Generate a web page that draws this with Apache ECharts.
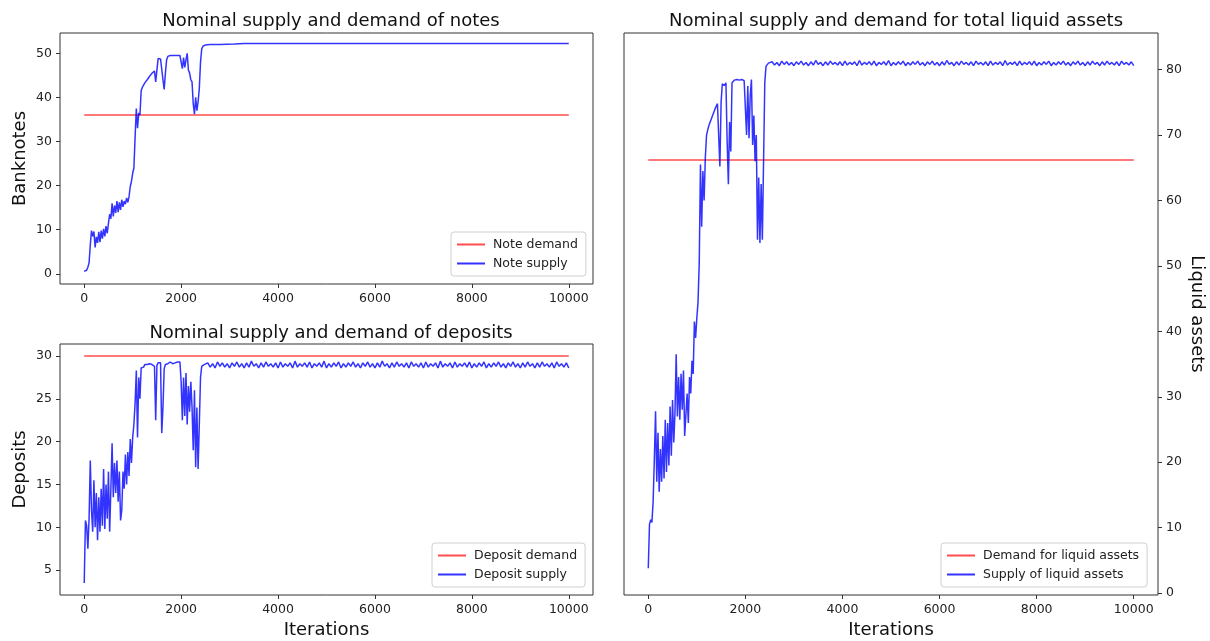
<!DOCTYPE html>
<html>
<head>
<meta charset="utf-8">
<script src="https://cdn.jsdelivr.net/npm/echarts@6/dist/echarts.min.js"></script>
<style>
  html, body { margin: 0; padding: 0; background: #fff; }
  #main { width: 1210px; height: 641px; }
</style>
</head>
<body>
<div id="main"></div>
<script>
// iterations sampled every 25 up to 2500, then every 50 to 10000
const earlyIters = [];
for (let i = 0; i <= 2500; i += 25) earlyIters.push(i);
const lateIters = [];
for (let i = 2550; i <= 10000; i += 50) lateIters.push(i);
const tickIters = [0, 2000, 4000, 6000, 8000, 10000];

// demand levels (flat lines over all iterations)
const demandIters = [0, 10000];
const noteDemand = 36;
const depositDemand = 30;
const liquidDemand = 66.2;

// notes supply
const notesEarly = [
  0.6, 0.5, 0.8, 1.5, 2.5, 6.5, 9.8, 8.5, 9.6, 6.0, 8.4, 7.0, 9.5, 7.2, 9.8, 8.0, 10.2, 8.5, 10.8, 9.2,
  11.5, 13.5, 12.5, 16.0, 13.0, 15.5, 13.8, 16.5, 14.0, 16.2, 14.5, 16.8, 15.2, 16.5, 15.8, 17.2, 16.2, 17.5, 19.8, 21.0,
  22.8, 24.0, 31.0, 37.5, 33.0, 36.5, 36.0, 41.5, 42.3, 42.8, 43.3, 43.7, 44.0, 44.4, 44.8, 45.1, 45.5, 45.8, 46.0, 43.5,
  46.2, 48.8, 49.0, 48.7, 49.0, 44.0, 41.8, 45.5, 48.5, 49.3, 49.5, 49.5, 49.5, 49.5, 49.5, 49.5, 49.5, 49.5, 49.5, 49.5,
  49.4, 46.5, 49.0, 46.8, 48.5, 50.0, 46.2, 45.5, 44.0, 43.5, 38.5, 36.2, 40.0, 37.0, 39.0, 42.0, 48.0, 51.0, 51.6, 51.8,
  51.9
];
const notesLateIters = [2600, 2800, 3100, 3300, 10000];
const notesLate = [52.0, 52.0, 52.1, 52.2, 52.2];

// deposit supply
const depositsEarly = [
  3.5, 10.8, 10.2, 7.5, 11.0, 17.8, 12.0, 9.5, 15.5, 10.0, 14.0, 8.5, 13.5, 9.5, 14.5, 10.2, 16.8, 9.8, 15.0, 11.0,
  16.5, 9.5, 14.5, 19.8, 13.5, 17.5, 14.0, 17.8, 13.0, 16.5, 10.8, 12.0, 16.5, 14.5, 18.5, 15.0, 18.8, 16.0, 20.3, 17.5,
  20.5, 22.0, 24.5, 28.3, 20.5, 27.5, 25.0, 28.6, 28.8, 28.7, 29.0, 28.8, 29.0, 28.9, 29.1, 28.9, 29.0, 29.1, 28.8, 22.5,
  28.9, 29.2, 29.0, 29.2, 21.0, 24.0, 28.5, 29.0, 29.2, 29.1, 29.2, 29.3, 29.2, 29.1, 29.3, 29.2, 29.1, 29.3, 29.2, 29.3,
  27.0, 22.5, 27.5, 23.0, 28.0, 22.0, 26.5, 23.5, 27.0, 24.0, 19.0, 26.0, 17.0, 24.0, 16.8, 22.0, 27.5, 28.8, 28.9, 29.0,
  28.8
];
const depositsLate = [
  29.2, 28.7, 29.1, 28.6, 29.3, 28.8, 29.2, 28.7, 29.1, 28.6, 29.2, 28.8, 29.3, 28.7, 29.1, 28.6, 29.2, 28.7, 29.4, 28.8,
  29.1, 28.6, 29.2, 28.7, 29.3, 28.8, 29.1, 28.7, 29.2, 28.6, 29.3, 28.7, 29.1, 28.8, 29.2, 28.6, 29.4, 28.7, 29.1, 28.8,
  29.2, 28.7, 29.3, 28.6, 29.1, 28.8, 29.2, 28.7, 29.4, 28.6, 29.1, 28.7, 29.2, 28.8, 29.3, 28.6, 29.1, 28.7, 29.2, 28.8,
  29.3, 28.7, 29.1, 28.6, 29.2, 28.8, 29.3, 28.7, 29.1, 28.6, 29.2, 28.7, 29.4, 28.8, 29.1, 28.6, 29.2, 28.7, 29.3, 28.8,
  29.1, 28.7, 29.2, 28.6, 29.3, 28.8, 29.1, 28.7, 29.2, 28.6, 29.3, 28.7, 29.1, 28.8, 29.2, 28.6, 29.4, 28.7, 29.1, 28.8,
  29.2, 28.6, 29.3, 28.7, 29.1, 28.8, 29.2, 28.7, 29.3, 28.6, 29.1, 28.7, 29.2, 28.8, 29.3, 28.6, 29.1, 28.7, 29.2, 28.8,
  29.3, 28.7, 29.1, 28.6, 29.2, 28.8, 29.3, 28.7, 29.1, 28.6, 29.2, 28.7, 29.3, 28.8, 29.1, 28.6, 29.2, 28.7, 29.3, 28.8,
  29.1, 28.7, 29.2, 28.6, 29.3, 28.8, 29.1, 28.7, 29.2, 28.6
];

// liquid assets supply
const liquidEarly = [
  3.8, 10.5, 11.2, 10.8, 14.0, 20.5, 27.8, 17.0, 24.5, 15.5, 22.0, 17.0, 24.0, 17.5, 26.5, 18.5, 26.0, 19.5, 28.5, 21.0,
  29.5, 23.0, 27.5, 36.5, 27.0, 33.0, 26.5, 33.5, 28.0, 34.0, 24.0, 23.8, 30.5, 26.0, 33.0, 30.5, 35.5, 33.5, 41.5, 39.0,
  42.0, 44.5, 50.5, 65.5, 56.0, 64.5, 60.0, 66.5, 70.0, 70.8, 71.5, 72.0, 72.5, 73.0, 73.5, 74.0, 74.3, 74.8, 75.0, 65.2,
  75.0, 77.8, 78.0, 77.6, 78.0, 69.0, 62.5, 72.0, 67.5, 78.0, 78.3, 78.4, 78.3, 78.5, 78.3, 78.4, 78.3, 78.5, 78.4, 78.3,
  78.3, 70.0, 77.5, 69.5, 76.0, 78.5, 68.5, 73.0, 66.0, 70.0, 54.0, 63.5, 53.5, 62.5, 54.0, 66.0, 78.0, 80.5, 80.8, 81.0,
  80.8
];
const liquidLate = [
  81.2, 80.7, 81.1, 80.6, 81.3, 80.8, 81.2, 80.7, 81.1, 80.6, 81.2, 80.8, 81.3, 80.7, 81.1, 80.6, 81.2, 80.7, 81.4, 80.8,
  81.1, 80.6, 81.2, 80.7, 81.3, 80.8, 81.1, 80.7, 81.2, 80.6, 81.3, 80.7, 81.1, 80.8, 81.2, 80.6, 81.4, 80.7, 81.1, 80.8,
  81.2, 80.7, 81.3, 80.6, 81.1, 80.8, 81.2, 80.7, 81.4, 80.6, 81.1, 80.7, 81.2, 80.8, 81.3, 80.6, 81.1, 80.7, 81.2, 80.8,
  81.3, 80.7, 81.1, 80.6, 81.2, 80.8, 81.3, 80.7, 81.1, 80.6, 81.2, 80.7, 81.4, 80.8, 81.1, 80.6, 81.2, 80.7, 81.3, 80.8,
  81.1, 80.7, 81.2, 80.6, 81.3, 80.8, 81.1, 80.7, 81.2, 80.6, 81.3, 80.7, 81.1, 80.8, 81.2, 80.6, 81.4, 80.7, 81.1, 80.8,
  81.2, 80.6, 81.3, 80.7, 81.1, 80.8, 81.2, 80.7, 81.3, 80.6, 81.1, 80.7, 81.2, 80.8, 81.3, 80.6, 81.1, 80.7, 81.2, 80.8,
  81.3, 80.7, 81.1, 80.6, 81.2, 80.8, 81.3, 80.7, 81.1, 80.6, 81.2, 80.7, 81.3, 80.8, 81.1, 80.6, 81.2, 80.7, 81.3, 80.8,
  81.1, 80.7, 81.2, 80.6, 81.3, 80.8, 81.1, 80.7, 81.2, 80.6
];

const noteTicks = [0, 10, 20, 30, 40, 50];
const depositTicks = [5, 10, 15, 20, 25, 30];
const liquidTicks = [0, 10, 20, 30, 40, 50, 60, 70, 80];

function pairs(xs, ys) {
  return xs.map((x, i) => [x, ys[i]]);
}
function flat(level) {
  return demandIters.map(x => [x, level]);
}

const FONT = 'DejaVu Sans';
const RED = 'rgba(255,0,0,0.7)';
const BLUE = 'rgba(0,0,255,0.8)';

function xAxis(gridIndex, name) {
  return {
    type: 'value', gridIndex: gridIndex, min: -500, max: 10500,
    name: name || '', nameLocation: 'middle', nameGap: 26,
    nameTextStyle: { fontFamily: FONT, fontSize: 18, color: '#111' },
    axisLine: { show: false, onZero: false },
    axisTick: { show: true, length: 4, customValues: tickIters, lineStyle: { color: '#333' } },
    axisLabel: { customValues: tickIters, margin: 8, fontFamily: FONT, fontSize: 12.5, color: '#222',
      formatter: v => String(v) },
    splitLine: { show: false }
  };
}
function yAxis(gridIndex, min, max, ticks, name, pos) {
  const right = pos === 'right';
  return {
    type: 'value', gridIndex: gridIndex, min: min, max: max, position: pos || 'left',
    name: name, nameLocation: 'middle', nameGap: right ? 30 : 31, nameRotate: right ? -90 : 90,
    nameTextStyle: { fontFamily: FONT, fontSize: 18, color: '#111' },
    axisLine: { show: false, onZero: false },
    axisTick: { show: true, length: 4, customValues: ticks, lineStyle: { color: '#333' } },
    axisLabel: { customValues: ticks, margin: 8, fontFamily: FONT, fontSize: 12.5, color: '#222',
      formatter: v => String(v) },
    splitLine: { show: false }
  };
}
function lineSeries(name, data, color, xi) {
  return {
    name: name, type: 'line', xAxisIndex: xi, yAxisIndex: xi, data: data,
    showSymbol: false, symbol: 'none', lineStyle: { color: color, width: 1.5 },
    itemStyle: { color: color }, z: color === BLUE ? 3 : 2
  };
}
function legend(names, left, top) {
  return {
    data: names, orient: 'vertical', left: left, top: top,
    icon: 'rect', itemWidth: 28, itemHeight: 2, itemGap: 6,
    padding: [6, 8, 6, 6], backgroundColor: 'rgba(255,255,255,0.8)',
    borderColor: '#d0d0d0', borderWidth: 1, borderRadius: 3,
    textStyle: { fontFamily: FONT, fontSize: 12.5, color: '#222', padding: [0, 0, 0, 3] }
  };
}

const chart = echarts.init(document.getElementById('main'), null, { renderer: 'canvas' });
chart.setOption({
  animation: false,
  backgroundColor: '#fff',
  title: [
    { text: 'Nominal supply and demand of notes', left: 326, top: 7, textAlign: 'center',
      textStyle: { fontFamily: FONT, fontSize: 18, fontWeight: 'normal', color: '#111' } },
    { text: 'Nominal supply and demand of deposits', left: 326, top: 319, textAlign: 'center',
      textStyle: { fontFamily: FONT, fontSize: 18, fontWeight: 'normal', color: '#111' } },
    { text: 'Nominal supply and demand for total liquid assets', left: 891, top: 7, textAlign: 'center',
      textStyle: { fontFamily: FONT, fontSize: 18, fontWeight: 'normal', color: '#111' } }
  ],
  grid: [
    { left: 60, top: 33, width: 533, height: 251, show: true, borderColor: '#333', borderWidth: 1, backgroundColor: '#fff', outerBoundsMode: 'none' },
    { left: 60, top: 344, width: 533, height: 251, show: true, borderColor: '#333', borderWidth: 1, backgroundColor: '#fff', outerBoundsMode: 'none' },
    { left: 624, top: 33, width: 534, height: 562, show: true, borderColor: '#333', borderWidth: 1, backgroundColor: '#fff', outerBoundsMode: 'none' }
  ],
  xAxis: [xAxis(0), xAxis(1, 'Iterations'), xAxis(2, 'Iterations')],
  yAxis: [
    yAxis(0, -2.3, 54.6, noteTicks, 'Banknotes'),
    yAxis(1, 2.1, 31.4, depositTicks, 'Deposits'),
    yAxis(2, -0.3, 85.6, liquidTicks, 'Liquid assets', 'right')
  ],
  legend: [
    legend(['Note demand', 'Note supply'], 451, 232),
    legend(['Deposit demand', 'Deposit supply'], 432, 543),
    legend(['Demand for liquid assets', 'Supply of liquid assets'], 941, 543)
  ],
  series: [
    lineSeries('Note demand', flat(noteDemand), RED, 0),
    lineSeries('Note supply', pairs(earlyIters, notesEarly).concat(pairs(notesLateIters, notesLate)), BLUE, 0),
    lineSeries('Deposit demand', flat(depositDemand), RED, 1),
    lineSeries('Deposit supply', pairs(earlyIters, depositsEarly).concat(pairs(lateIters, depositsLate)), BLUE, 1),
    lineSeries('Demand for liquid assets', flat(liquidDemand), RED, 2),
    lineSeries('Supply of liquid assets', pairs(earlyIters, liquidEarly).concat(pairs(lateIters, liquidLate)), BLUE, 2)
  ]
});
</script>
</body>
</html>
